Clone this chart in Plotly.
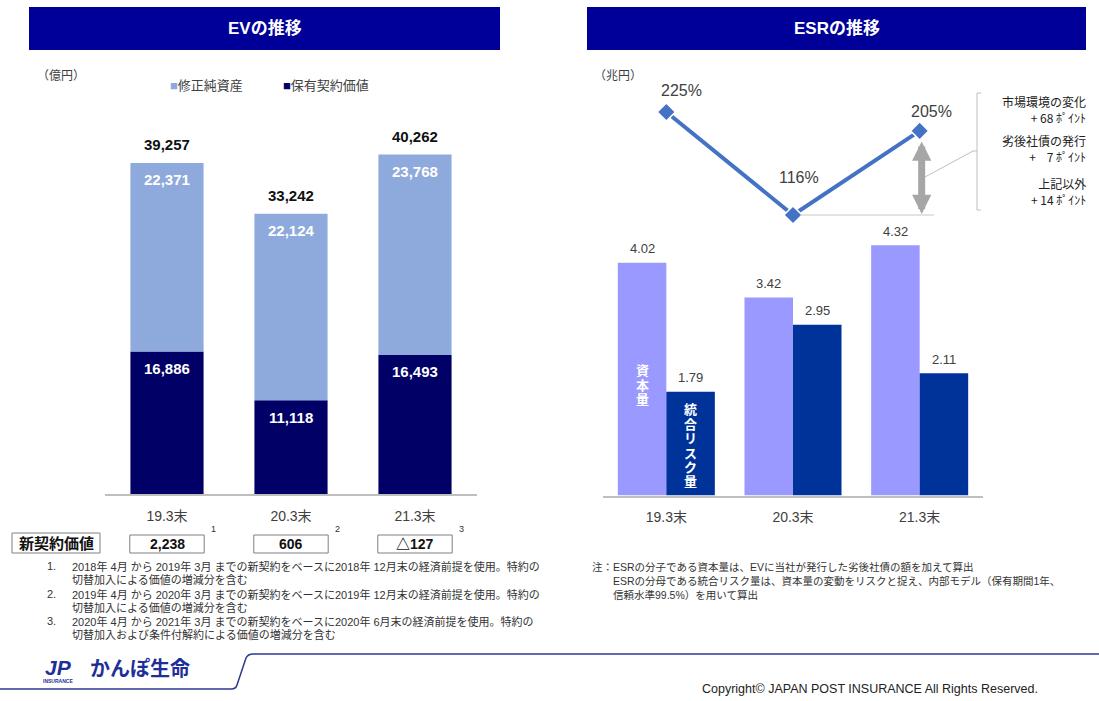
import plotly.graph_objects as go

W, H = 1099, 701

# ---- data -------------------------------------------------------------
categories = ["19.3末", "20.3末", "21.3末"]

# EV (億円)
adjusted_net_worth = [22371, 22124, 23768]   # 修正純資産
value_in_force = [16886, 11118, 16493]        # 保有契約価値
ev_total = [39257, 33242, 40262]
new_business_value = [2238, 606, -127]        # 新契約価値

# ESR (兆円 / %)
capital = [4.02, 3.42, 4.32]                  # 資本量
integrated_risk = [1.79, 2.95, 2.11]          # 統合リスク量
esr = [225, 116, 205]

esr_factors = ["市場環境の変化", "劣後社債の発行", "上記以外"]
esr_factor_points = [68, 7, 14]

ev_notes = [
    "2018年 4月 から 2019年 3月 までの新契約をベースに2018年 12月末の経済前提を使用。特約の",
    "2019年 4月 から 2020年 3月 までの新契約をベースに2019年 12月末の経済前提を使用。特約の",
    "2020年 4月 から 2021年 3月 までの新契約をベースに2020年 6月末の経済前提を使用。特約の",
]
ev_notes_cont = [
    "切替加入による価値の増減分を含む",
    "切替加入による価値の増減分を含む",
    "切替加入および条件付解約による価値の増減分を含む",
]
esr_notes = [
    "注：ESRの分子である資本量は、EVに当社が発行した劣後社債の額を加えて算出",
    "　　ESRの分母である統合リスク量は、資本量の変動をリスクと捉え、内部モデル（保有期間1年、",
    "　　信頼水準99.5%）を用いて算出",
]

# ---- styling ----------------------------------------------------------
FONT = "Liberation Sans, Arial, Noto Sans CJK JP, sans-serif"
CJK = "Noto Sans CJK JP, sans-serif"
TITLE_BG = "#000099"
EV_LIGHT = "#8EA9DB"
EV_DARK = "#000066"
ESR_CAP = "#9999FF"
ESR_RISK = "#003399"
LINE_BLUE = "#4472C4"
TXT = "#404040"
AXIS_GRAY = "#BFBFBF"
FOOT_BLUE = "#2B3990"


def px(x):
    return x / W


def py(y):
    return 1 - y / H


annotations = []
shapes = []


def text(x, y, s, size=12, color=TXT, bold=False, xanchor="center",
         yanchor="middle", xref="paper", yref="paper", family=FONT, **kw):
    if xref == "paper":
        x = px(x)
    if yref == "paper":
        y = py(y)
    annotations.append(dict(
        x=x, y=y, xref=xref, yref=yref, text=f"<b>{s}</b>" if bold else s,
        showarrow=False, xanchor=xanchor, yanchor=yanchor,
        font=dict(family=family, size=size, color=color), **kw))


fig = go.Figure()

# ---- EV stacked bars ----------------------------------------------------
EV_W = 0.59
fig.add_bar(x=categories, y=value_in_force, name="保有契約価値",
            marker=dict(color=EV_DARK, line=dict(width=0)),
            width=EV_W, offset=-EV_W / 2, xaxis="x", yaxis="y")
fig.add_bar(x=categories, y=adjusted_net_worth, base=value_in_force,
            name="修正純資産", marker=dict(color=EV_LIGHT, line=dict(width=0)),
            width=EV_W, offset=-EV_W / 2, xaxis="x", yaxis="y")

for i, c in enumerate(categories):
    text(c, ev_total[i], f"{ev_total[i]:,}", size=15, color="#111111",
         bold=True, xref="x", yref="y", yshift=18)
    text(c, ev_total[i], f"{adjusted_net_worth[i]:,}", size=15,
         color="white", bold=True, xref="x", yref="y", yshift=-17)
    text(c, value_in_force[i], f"{value_in_force[i]:,}", size=15,
         color="white", bold=True, xref="x", yref="y", yshift=-17)

# ---- ESR grouped bars ---------------------------------------------------
ESR_W = 0.383
fig.add_bar(x=categories, y=capital, name="資本量",
            marker=dict(color=ESR_CAP, line=dict(width=0)),
            width=ESR_W, offset=-ESR_W, xaxis="x2", yaxis="y2")
fig.add_bar(x=categories, y=integrated_risk, name="統合リスク量",
            marker=dict(color=ESR_RISK, line=dict(width=0)),
            width=ESR_W, offset=0, xaxis="x2", yaxis="y2")

for i in range(len(categories)):
    text(i - ESR_W / 2, capital[i], f"{capital[i]:.2f}", size=13,
         xref="x2", yref="y2", yshift=14)
    text(i + ESR_W / 2, integrated_risk[i], f"{integrated_risk[i]:.2f}",
         size=13, xref="x2", yref="y2", yshift=14)

# vertical labels inside the first pair of bars
for k, ch in enumerate("資本量"):
    text(-ESR_W / 2, capital[0], ch, size=13, color="white", bold=True,
         xref="x2", yref="y2", yshift=-(108 + 14.5 * k))
for k, ch in enumerate("統合リスク量"):
    text(ESR_W / 2, integrated_risk[0], ch, size=13, color="white",
         bold=True, xref="x2", yref="y2", yshift=-(18 + 14.4 * k))

# ---- ESR line -----------------------------------------------------------
fig.add_trace(go.Scatter(
    x=categories, y=esr, mode="lines+markers", name="ESR",
    line=dict(color=LINE_BLUE, width=4),
    marker=dict(symbol="diamond", size=14, color=LINE_BLUE,
                line=dict(color="white", width=1.5)),
    xaxis="x3", yaxis="y3"))

esr_label_shift = [(15, 21), (6, 37), (12, 19)]
for i, v in enumerate(esr):
    dx, dy = esr_label_shift[i]
    text(categories[i], v, f"{v}%", size=16, xref="x3", yref="y3",
         xshift=dx, yshift=dy)

# change from 20.3末 to 21.3末: baseline + double arrow
shapes.append(dict(type="line", xref="paper", yref="y3", x0=px(800),
                   x1=px(934), y0=esr[1], y1=esr[1],
                   line=dict(color="#C8C8C8", width=1)))
annotations.append(dict(
    xref="x3", yref="y3", axref="x3", ayref="y3",
    x=categories[2], y=esr[1], ax=categories[2], ay=esr[2], text="",
    showarrow=True, arrowside="end+start", arrowhead=2, startarrowhead=2,
    arrowsize=0.55, startarrowsize=0.55, arrowwidth=7, arrowcolor="#A6A6A6",
    standoff=1, startstandoff=9, xshift=2))

# bracket with the breakdown of the change
shapes.append(dict(type="path", xref="paper", yref="paper",
                   path=f"M {px(981)} {py(93)} L {px(977)} {py(93)} "
                        f"L {px(977)} {py(210)} L {px(981)} {py(210)}",
                   line=dict(color=AXIS_GRAY, width=1)))
shapes.append(dict(type="line", xref="paper", yref="paper",
                   x0=px(973), x1=px(977), y0=py(151), y1=py(151),
                   line=dict(color=AXIS_GRAY, width=1)))
shapes.append(dict(type="line", xref="paper", yref="paper",
                   x0=px(925), x1=px(973), y0=py(177), y1=py(151),
                   line=dict(color=AXIS_GRAY, width=1)))

factor_center_y = [109, 149, 192]
for name, pts, yc in zip(esr_factors, esr_factor_points, factor_center_y):
    num = f"{pts}" if pts >= 10 else "\u00a0\u00a0\u00a0" + f"{pts}"
    text(1088, yc, f"{name}<br>+ {num} ﾎﾟｲﾝﾄ", size=12, color="#222222",
         xanchor="right", align="right", family=CJK)

# ---- panel headers ------------------------------------------------------
for (x0, x1, title) in [(29, 500, "EVの推移"), (587, 1086, "ESRの推移")]:
    shapes.append(dict(type="rect", xref="paper", yref="paper",
                       x0=px(x0), x1=px(x1), y0=py(50), y1=py(7),
                       fillcolor=TITLE_BG, line=dict(width=0), layer="below"))
    text((x0 + x1) / 2, 28, title, size=17, color="white", bold=True)

text(35, 76, "（億円）", size=12, xanchor="left")
text(592, 76, "（兆円）", size=12, xanchor="left")

# legend of the EV chart
text(168, 85, f'<span style="color:{EV_LIGHT}">■</span>修正純資産',
     size=13, xanchor="left")
text(281, 85, f'<span style="color:{EV_DARK}">■</span>保有契約価値',
     size=13, xanchor="left")

# ---- new business value row --------------------------------------------
shapes.append(dict(type="rect", xref="paper", yref="paper",
                   x0=px(12), x1=px(100), y0=py(553), y1=py(533),
                   line=dict(color="#808080", width=1), fillcolor="white"))
text(56, 543, "新契約価値", size=15, color="#111111", bold=True)


def fmt_nbv(v):
    return f"{v:,}" if v >= 0 else f"△{-v:,}"


for i, v in enumerate(new_business_value):
    shapes.append(dict(type="rect", xref="x", yref="paper",
                       x0=i - 0.3, x1=i + 0.3, y0=py(553), y1=py(535),
                       line=dict(color="#808080", width=1), fillcolor="white"))
    text(i, 544, fmt_nbv(v), size=14, color="#111111", bold=True,
         xref="x")
    text(i + 0.34, 529, str(i + 1), size=9, color="#333333", xref="x",
         xanchor="left")

note_y = [(566, 579), (594, 607), (621, 634)]
for k, (a, b) in enumerate(note_y):
    text(45, a, f"{k + 1}.", size=11, color="#333333", xanchor="left")
    text(70, a, ev_notes[k], size=11, color="#333333", xanchor="left")
    text(70, b, ev_notes_cont[k], size=11, color="#333333", xanchor="left")

for k, line in enumerate(esr_notes):
    text(590, 567 + 14 * k, line, size=10.5, color="#333333", xanchor="left")

# ---- footer -------------------------------------------------------------
shapes.append(dict(type="path", xref="paper", yref="paper",
                   path=(f"M {px(0)} {py(689)} L {px(231)} {py(689)} "
                         f"Q {px(236)} {py(689)} {px(237)} {py(685)} "
                         f"L {px(246)} {py(658)} "
                         f"Q {px(248)} {py(654)} {px(253)} {py(654)} "
                         f"L {px(1099)} {py(654)}"),
                   line=dict(color=FOOT_BLUE, width=1.5)))
text(58, 667, "<i>JP</i>", size=21, color="#1F2F9A", bold=True)
text(58, 681, "INSURANCE", size=5, color="#1F2F9A", bold=True)
text(88, 668, "かんぽ生命", size=20, color="#1F2F9A", bold=True,
     xanchor="left")
text(1040, 689, "Copyright© JAPAN POST INSURANCE All Rights Reserved.",
     size=12.5, color="#222222", xanchor="right")

# ---- axes ---------------------------------------------------------------
common_x = dict(type="category", range=[-0.5, 2.5], showgrid=False,
                zeroline=False, showline=True, linecolor=AXIS_GRAY,
                linewidth=1.5, ticks="outside", ticklen=8,
                tickcolor="rgba(0,0,0,0)",
                tickfont=dict(family=FONT, size=14, color=TXT),
                fixedrange=True)
hidden_y = dict(visible=False, showgrid=False, zeroline=False,
                fixedrange=True)

fig.update_layout(
    width=W, height=H, autosize=False,
    margin=dict(l=0, r=0, t=0, b=0),
    paper_bgcolor="white", plot_bgcolor="white",
    barmode="overlay", showlegend=False,
    font=dict(family=FONT, color=TXT),
    xaxis=dict(common_x, domain=[px(105), px(477)], anchor="y"),
    yaxis=dict(hidden_y, domain=[py(494), py(134)], range=[0, 42695],
               anchor="x"),
    xaxis2=dict(common_x, domain=[px(603), px(983)], anchor="y2"),
    yaxis2=dict(hidden_y, domain=[py(495.5), py(235)], range=[0, 4.499],
                anchor="x2"),
    xaxis3=dict(type="category", range=[-0.5, 2.5], visible=False,
                domain=[px(603), px(983)], anchor="y3", fixedrange=True),
    yaxis3=dict(hidden_y, domain=[py(230), py(95)], range=[100.13, 242.98],
                anchor="x3"),
    annotations=annotations,
    shapes=shapes,
)

fig.write_html("out.html", config={"displayModeBar": False})
